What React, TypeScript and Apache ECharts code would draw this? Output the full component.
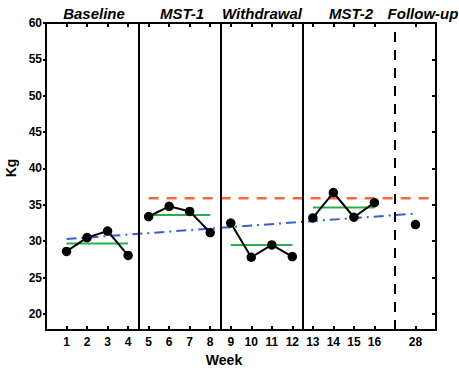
import React, { useEffect, useRef } from "react";
import * as echarts from "echarts";

// Week positions on the axis (follow-up week 28 is drawn at position 18)
const baselineWeeks = [1, 2, 3, 4];
const baselineKg = [28.6, 30.5, 31.4, 28.05];
const mst1Weeks = [5, 6, 7, 8];
const mst1Kg = [33.4, 34.8, 34.1, 31.2];
const withdrawalWeeks = [9, 10, 11, 12];
const withdrawalKg = [32.5, 27.8, 29.5, 27.9];
const mst2Weeks = [13, 14, 15, 16];
const mst2Kg = [33.2, 36.7, 33.3, 35.3];
const followUpPos = [18];
const followUpKg = [32.3];

// phase means (green lines)
const phaseMeans = [29.7, 33.6, 29.5, 34.65];
// criterion line (orange) and trend (blue)
const criterionKg = 35.9;
const criterionFrom = 5;
const criterionTo = 19;
const trendStart = [1, 30.3];
const trendEnd = [18, 33.8];

// phase boundaries
const phaseBounds = [4.5, 8.5, 12.5];
const followUpBound = 17;

const xTickValues = [1, 2, 3, 4, 5, 6, 7, 8, 9, 10, 11, 12, 13, 14, 15, 16, 18];
const xTickLabels: Record<number, string> = { 18: "28" };
const yTickValues = [20, 25, 30, 35, 40, 45, 50, 55, 60];

const phaseTitles = ["Baseline", "MST-1", "Withdrawal", "MST-2", "Follow-up"];

const FONT = "Liberation Sans, Arial, Helvetica, sans-serif";
const INK = "#000000";

function pairs(xs: number[], ys: number[]) {
  return xs.map((x, i) => [x, ys[i]]);
}

function axisLine() {
  return { show: true, onZero: false, lineStyle: { color: INK, width: 2, opacity: 1 } };
}

export default function App() {
  const ref = useRef<HTMLDivElement>(null);
  useEffect(() => {
    if (!ref.current) return;
    const chart = echarts.init(ref.current, undefined, { renderer: "svg" });
    const phases = [
      [baselineWeeks, baselineKg],
      [mst1Weeks, mst1Kg],
      [withdrawalWeeks, withdrawalKg],
      [mst2Weeks, mst2Kg],
    ] as [number[], number[]][];

    const dataSeries = phases.map(([w, k]) => ({
      type: "line",
      data: pairs(w, k),
      symbol: "circle",
      symbolSize: 9.5,
      itemStyle: { color: "#000" },
      lineStyle: { color: "#000", width: 2 },
      z: 5,
    }));

    const meanSeries = phases.map(([w], i) => ({
      type: "line",
      data: [
        [w[0], phaseMeans[i]],
        [w[w.length - 1], phaseMeans[i]],
      ],
      symbol: "none",
      lineStyle: { color: "#27b04a", width: 2 },
      z: 4,
    }));

    const titleX = [94, 182, 262, 351, 423];

    chart.setOption({
      animation: false,
      backgroundColor: "#fff",
      grid: { left: 46, right: 23, top: 23, bottom: 43, outerBoundsMode: "none" },
      xAxis: [
        {
          type: "value",
          min: 0,
          max: 19,
          position: "bottom",
          axisLine: axisLine(),
          axisTick: { show: true, inside: true, length: 4, customValues: xTickValues, lineStyle: { color: INK, width: 2 } },
          axisLabel: {
            show: true,
            customValues: xTickValues,
            formatter: (v: number) => xTickLabels[v] ?? String(v),
            color: INK,
            fontWeight: "bold",
            fontSize: 12,
            fontFamily: FONT,
            margin: 6,
          },
          splitLine: { show: false },
        },
        {
          type: "value",
          min: 0,
          max: 19,
          position: "top",
          axisLine: axisLine(),
          axisTick: { show: true, inside: true, length: 4, customValues: xTickValues, lineStyle: { color: INK, width: 2 } },
          axisLabel: { show: false },
          splitLine: { show: false },
        },
      ],
      yAxis: [
        {
          type: "value",
          min: 17.8,
          max: 60,
          position: "left",
          z: 10,
          axisLine: axisLine(),
          axisTick: { show: true, inside: false, length: 3, customValues: yTickValues, lineStyle: { color: INK, width: 2 } },
          axisLabel: {
            show: true,
            customValues: yTickValues,
            formatter: (v: number) => String(v),
            color: INK,
            opacity: 1,
            fontWeight: "bold",
            fontSize: 12,
            fontFamily: FONT,
            margin: 4,
          },
          splitLine: { show: false },
        },
        {
          type: "value",
          min: 17.8,
          max: 60,
          position: "right",
          axisLine: axisLine(),
          axisTick: { show: true, inside: true, length: 4, customValues: yTickValues, lineStyle: { color: INK, width: 2 } },
          axisLabel: { show: false },
          splitLine: { show: false },
        },
      ],
      graphic: [
        ...phaseTitles.map((t, i) => ({
          type: "text",
          x: titleX[i],
          y: 13,
          style: {
            text: t,
            fill: INK,
            font: `italic bold 15px ${FONT}`,
            textAlign: "center",
            textVerticalAlign: "middle",
          },
        })),
        {
          type: "text",
          x: 224,
          y: 360,
          style: {
            text: "Week",
            fill: INK,
            font: `bold 14px ${FONT}`,
            textAlign: "center",
            textVerticalAlign: "middle",
          },
        },
        {
          type: "text",
          x: 11,
          y: 168,
          rotation: Math.PI / 2,
          style: {
            text: "Kg",
            fill: INK,
            font: `bold 14px ${FONT}`,
            textAlign: "center",
            textVerticalAlign: "middle",
          },
        },
      ],
      series: [
        {
          type: "line",
          data: [],
          markLine: {
            silent: true,
            symbol: "none",
            label: { show: false },
            lineStyle: { color: INK, width: 2, type: "solid" },
            data: phaseBounds.map((b) => ({ xAxis: b })),
          },
        },
        {
          type: "line",
          data: [],
          markLine: {
            silent: true,
            symbol: "none",
            label: { show: false },
            lineStyle: { color: INK, width: 2, type: [10, 8] },
            data: [{ xAxis: followUpBound }],
          },
        },
        {
          type: "line",
          data: [
            [criterionFrom, criterionKg],
            [criterionTo, criterionKg],
          ],
          symbol: "none",
          lineStyle: { color: "#f26a3c", width: 2.5, type: [10, 8] },
          z: 3,
        },
        {
          type: "line",
          data: [trendStart, trendEnd],
          symbol: "none",
          lineStyle: { color: "#3a5ed0", width: 2, type: [10, 5, 2, 5] },
          z: 3,
        },
        ...meanSeries,
        ...dataSeries,
        {
          type: "line",
          data: pairs(followUpPos, followUpKg),
          symbol: "circle",
          symbolSize: 9.5,
          itemStyle: { color: "#000" },
          lineStyle: { width: 0 },
          z: 5,
        },
      ],
    });
    return () => chart.dispose();
  }, []);
  return (
    <div
      ref={ref}
      style={{ position: "fixed", left: 0, top: 0, width: 459, height: 373 }}
    />
  );
}
